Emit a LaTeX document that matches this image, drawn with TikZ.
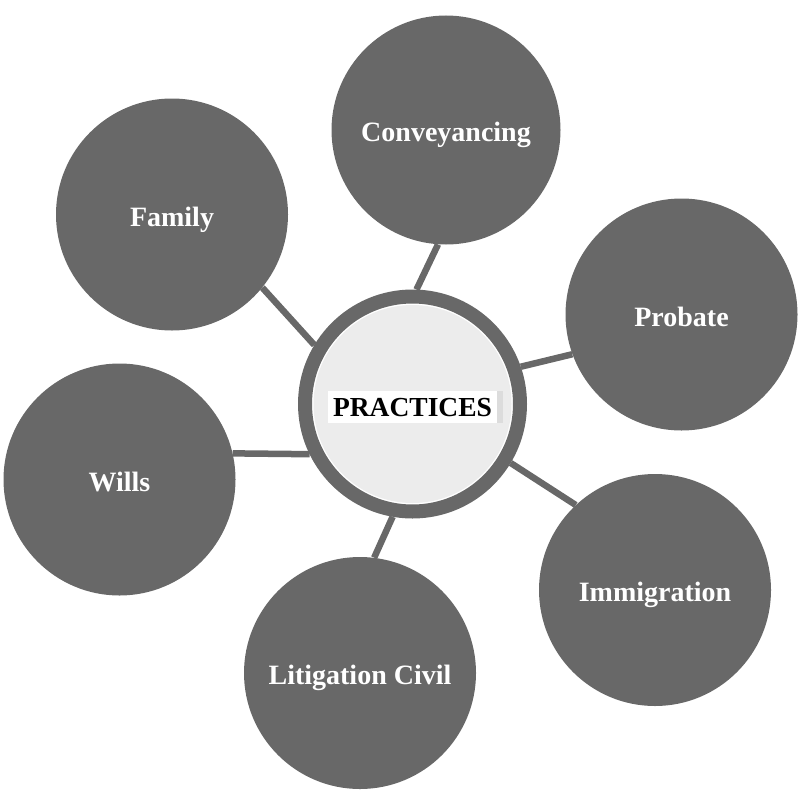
\documentclass[tikz,border=0pt]{standalone}
\usepackage{fontspec}
\setmainfont{Liberation Serif}
\usepackage{tikz}
\usetikzlibrary{calc}
\definecolor{disc}{HTML}{686868}
\definecolor{inner}{HTML}{ECECEC}
\definecolor{strip}{HTML}{DCDCDC}

\begin{document}
\begin{tikzpicture}[x=1pt,y=-1pt,
    area/.style={circle, fill=disc, minimum size=232pt, inner sep=0pt,
        text=white, font=\bfseries\fontsize{28}{30}\selectfont,
        text height=23pt, text depth=0pt},
    link/.style={draw=disc, line width=6.5pt}]
                \useasboundingbox (0,0) rectangle (800,800);
                \node[circle, draw=disc, line width=14pt, fill=white, minimum size=215pt] (ctr) at (412.5,404) {};
                \fill[inner] (ctr.center) circle (99pt);
                \node[fill=white, minimum width=169pt, minimum height=32pt, inner sep=0pt,
                    font=\bfseries\fontsize{27.5}{30}\selectfont, text height=18pt, text depth=0pt] (lbl) at (412.5,407) {PRACTICES};
                \fill[strip] (lbl.north east) rectangle ($(lbl.south east)+(6,0)$);
                \node[area, minimum size=229pt] (conv) at (446,130) {Conveyancing};
                \node[area] (fam) at (172,214.5) {Family};
                \node[area] (prob) at (681.5,314.5) {Probate};
                \node[area] (wills) at (119.5,479.5) {Wills};
                \node[area] (imm) at (655,590) {Immigration};
                \node[area] (lit) at (360,673) {Litigation Civil};
                \draw[link] (conv.266) -- (ctr.88);
                \draw[link] (fam.321) -- (ctr.149);
                \draw[link] (wills.13) -- (ctr.206);
                \draw[link] (lit.83) -- (ctr.260);
                \draw[link] (prob.200) -- (ctr.19);
                \draw[link] (imm.133) -- (ctr.329);
            \end{tikzpicture}
\end{document}
